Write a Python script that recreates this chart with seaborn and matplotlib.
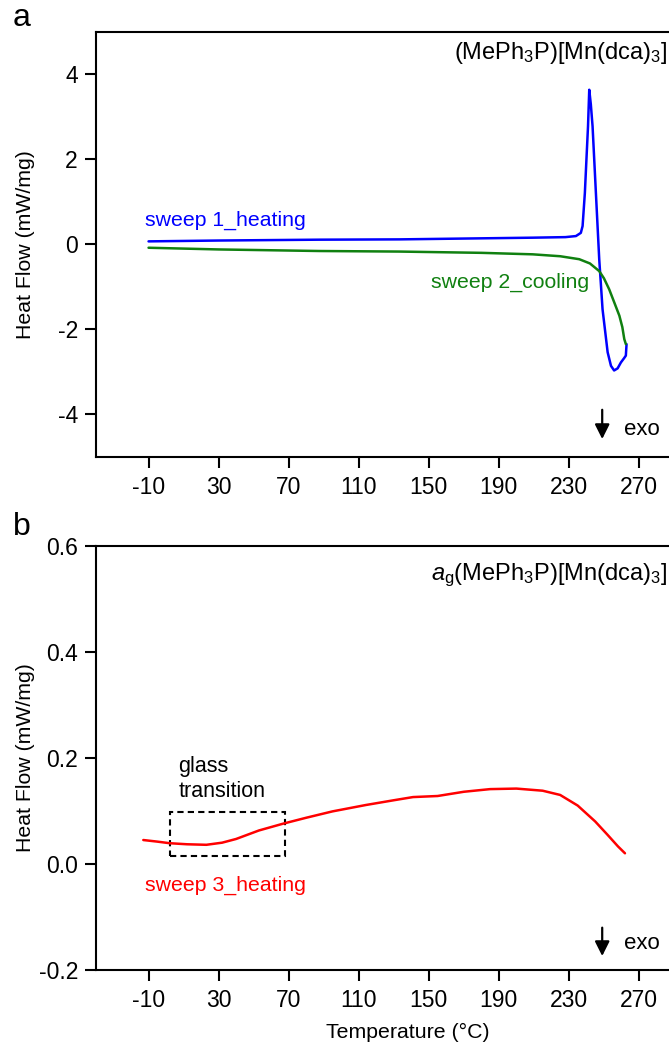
import numpy as np
import pandas as pd
import matplotlib
matplotlib.use("Agg")
import matplotlib.pyplot as plt
from matplotlib.patches import Rectangle
import seaborn as sns

# sweep 1, heating (panel a)
heat_temp = [-10, 30, 87.6, 133.2, 209.3, 228, 234, 236.8, 237.8, 239.1, 240.0, 240.9, 241.6,
             242.5, 243.5, 245.4, 247.3, 249.2, 252.1, 254.0, 255.8, 257.8, 259.7, 261.5, 262.5, 262.9]
heat_flow = [0.07, 0.09, 0.11, 0.117, 0.157, 0.17, 0.195, 0.27, 0.43, 1.21, 2.0, 2.78, 3.64,
             3.3, 2.78, 1.21, -0.35, -1.53, -2.54, -2.86, -2.97, -2.92, -2.78, -2.68, -2.62, -2.35]

# sweep 2, cooling (panel a)
cool_temp = [-10, 30, 87.6, 133.2, 180, 209.3, 225, 235.9, 242, 247.3, 250, 253, 256, 258.8, 260.5, 261.6, 262.5]
cool_flow = [-0.08, -0.12, -0.157, -0.17, -0.2, -0.235, -0.28, -0.35, -0.45, -0.63, -0.8, -1.06, -1.38,
             -1.68, -1.95, -2.23, -2.35]

# sweep 3, heating (panel b)
glass_temp = [-13, -5, 2, 12, 23, 32, 40, 53, 67, 80, 95, 114, 130, 141, 155, 170, 185, 200,
              215, 225, 235, 245, 252, 258, 262]
glass_flow = [0.045, 0.042, 0.039, 0.037, 0.036, 0.04, 0.047, 0.063, 0.076, 0.087, 0.099, 0.111,
              0.12, 0.126, 0.128, 0.136, 0.141, 0.142, 0.138, 0.13, 0.11, 0.08, 0.055, 0.033, 0.02]

x_ticks = [-10, 30, 70, 110, 150, 190, 230, 270]
a_ticks = [-4, -2, 0, 2, 4]
b_ticks = [-0.2, 0.0, 0.2, 0.4, 0.6]

sns.set_theme(style="ticks")
plt.rcParams["font.family"] = ["Liberation Sans", "DejaVu Sans"]
plt.rcParams["mathtext.fontset"] = "custom"
plt.rcParams["mathtext.rm"] = "Liberation Sans"
plt.rcParams["mathtext.it"] = "Liberation Sans:italic"
plt.rcParams["axes.unicode_minus"] = False
plt.rcParams["text.color"] = "black"
plt.rcParams["axes.labelcolor"] = "black"

fig = plt.figure(figsize=(6.69, 10.46), dpi=100)
ax_a = fig.add_axes([0.1435, 0.5634, 0.864, 0.4060])
ax_b = fig.add_axes([0.1435, 0.0727, 0.864, 0.4056])

heat = pd.DataFrame({"T": heat_temp, "HF": heat_flow})
cool = pd.DataFrame({"T": cool_temp, "HF": cool_flow})
glass = pd.DataFrame({"T": glass_temp, "HF": glass_flow})

sns.lineplot(data=heat, x="T", y="HF", ax=ax_a, color="#0000ff", lw=1.8, sort=False, estimator=None)
sns.lineplot(data=cool, x="T", y="HF", ax=ax_a, color="#108010", lw=1.8, sort=False, estimator=None)
sns.lineplot(data=glass, x="T", y="HF", ax=ax_b, color="#ff0000", lw=1.8, sort=False, estimator=None)

for ax in (ax_a, ax_b):
    ax.set_xlim(-40, 290)
    ax.set_xticks(x_ticks)
    ax.set_xlabel("")
    ax.set_ylabel("Heat Flow (mW/mg)", fontsize=15.3)
    ax.yaxis.set_label_coords(-0.105, 0.5)
    ax.spines["right"].set_visible(False)
    for s in ("left", "bottom", "top"):
        ax.spines[s].set_linewidth(1.5)
        ax.spines[s].set_color("black")
    ax.tick_params(direction="out", length=8, width=1.5, labelsize=16.5, colors="black")
    ax.tick_params(axis="x", pad=6)
    ax.tick_params(axis="y", pad=5)

ax_a.set_ylim(-5, 5)
ax_a.set_yticks(a_ticks)
ax_b.set_ylim(-0.2, 0.6)
ax_b.set_yticks(b_ticks)
ax_b.set_yticklabels([f"{v:.1f}" for v in b_ticks])
ax_b.set_xlabel("Temperature (\u00b0C)", fontsize=15.3)
ax_b.xaxis.set_label_coords(0.54, -0.125)

# panel a annotations
ax_a.text(-12.3, 0.57, "sweep 1_heating", color="#0000ff", fontsize=15.3, va="center", ha="left")
ax_a.text(151.5, -0.9, "sweep 2_cooling", color="#108010", fontsize=15.3, va="center", ha="left")
ax_a.text(0.988, 0.95, r"(MePh$_3$P)[Mn(dca)$_3$]", transform=ax_a.transAxes,
          fontsize=17, ha="right", va="center")
ax_a.annotate("", xy=(249, -4.65), xytext=(249, -3.83),
              arrowprops=dict(arrowstyle="-|>", color="black", lw=1.6, mutation_scale=22))
ax_a.text(261.5, -4.37, "exo", fontsize=16, va="center", ha="left")

# panel b annotations
ax_b.add_patch(Rectangle((2, 0.014), 66, 0.083, fill=False, ls=(0, (3, 2)), lw=1.5, ec="black"))
ax_b.text(7, 0.16, "glass\ntransition", fontsize=15.5, va="center", ha="left", linespacing=1.25)
ax_b.text(-12.3, -0.04, "sweep 3_heating", color="#ff0000", fontsize=15.3, va="center", ha="left")
ax_b.text(0.988, 0.93, r"$\it{a}_{\rm g}$(MePh$_3$P)[Mn(dca)$_3$]", transform=ax_b.transAxes,
          fontsize=17, ha="right", va="center")
ax_b.annotate("", xy=(249, -0.179), xytext=(249, -0.115),
              arrowprops=dict(arrowstyle="-|>", color="black", lw=1.6, mutation_scale=22))
ax_b.text(261.5, -0.1496, "exo", fontsize=16, va="center", ha="left")

fig.text(22 / 669, 1 - 18 / 1046, "a", fontsize=23, ha="center", va="center")
fig.text(22 / 669, 1 - 527 / 1046, "b", fontsize=23, ha="center", va="center")

fig.savefig("out.png", dpi=100)
